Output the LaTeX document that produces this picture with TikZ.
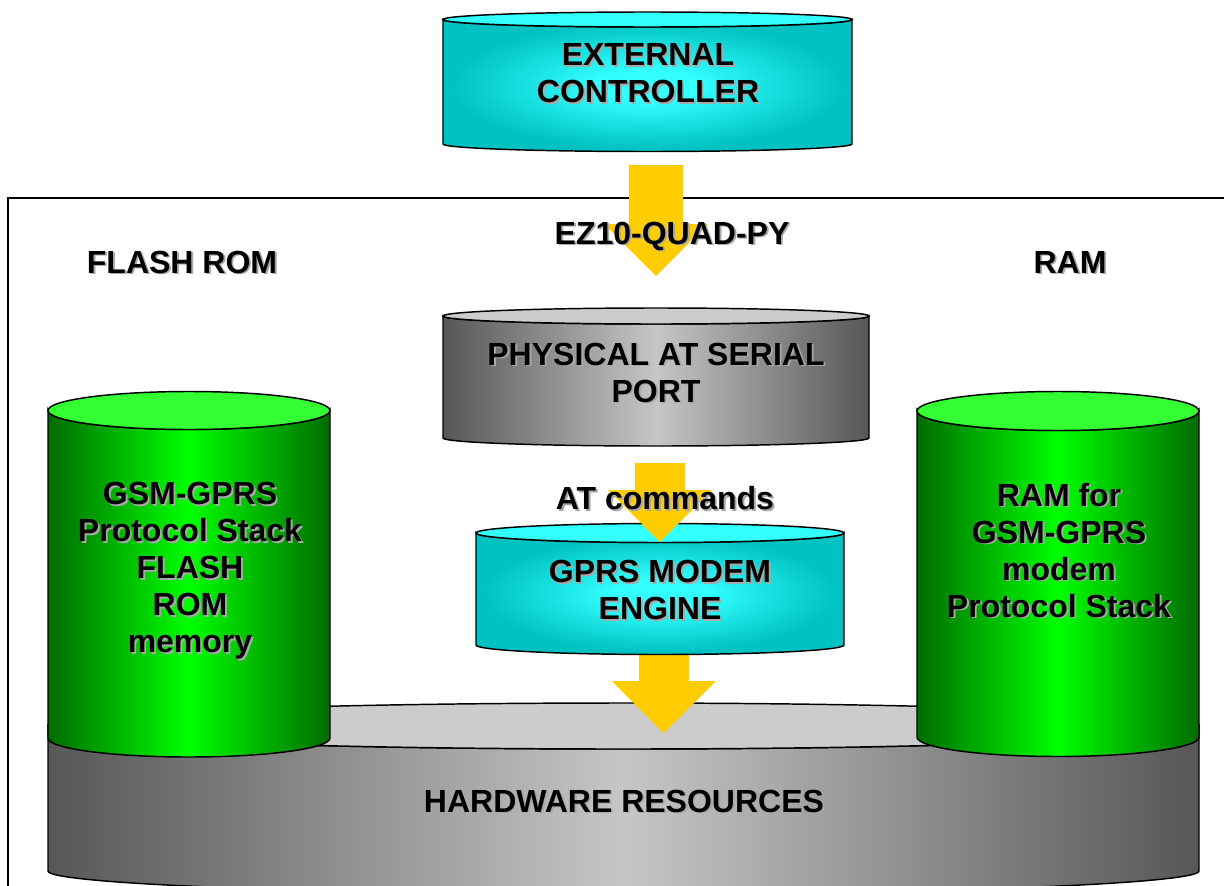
\documentclass[tikz,border=0pt]{standalone}
\usepackage{fontspec}
\setmainfont{Liberation Sans}
\usetikzlibrary{arrows.meta}

\definecolor{greyedge}{HTML}{575757}
\definecolor{greymid}{HTML}{C6C6C6}
\definecolor{greytop}{HTML}{CCCCCC}
\definecolor{greenedge}{HTML}{006C00}
\definecolor{greenmid}{HTML}{00FF00}
\definecolor{greentop}{HTML}{33FF33}
\definecolor{cyanedge}{HTML}{00C2C2}
\definecolor{cyanmid}{HTML}{33FFFF}
\definecolor{cyantop}{HTML}{33FFFF}
\definecolor{arrowyellow}{HTML}{FFCC00}
\definecolor{shadowgrey}{HTML}{A8A8A8}

\pgfdeclarehorizontalshading{greycyl}{100bp}{color(0bp)=(greyedge); color(25bp)=(greyedge); color(50bp)=(greymid); color(75bp)=(greyedge); color(100bp)=(greyedge)}
\pgfdeclarehorizontalshading{greencyl}{100bp}{color(0bp)=(greenedge); color(25bp)=(greenedge); color(50bp)=(greenmid); color(75bp)=(greenedge); color(100bp)=(greenedge)}
\pgfdeclareradialshading{cyancyl}{\pgfpoint{0bp}{0bp}}{color(0bp)=(cyanmid); color(6bp)=(cyanmid); color(24bp)=(cyanedge); color(100bp)=(cyanedge)}

\def\sh#1{\leavevmode\rlap{\kern1.4pt\raisebox{-1.4pt}{\textcolor{shadowgrey}{#1}}}#1}
% cylinder: left, right, top y, bottom y, y radius, shading, top colour
\def\cyl#1#2#3#4#5#6#7{%
  \pgfmathsetmacro\rx{(#2-#1)/2}%
  \pgfmathsetmacro\cx{(#1+#2)/2}%
  \draw[line width=1.1pt, shade, shading=#6] (#1,#3) -- (#1,#4) arc[start angle=180, end angle=0, x radius=\rx, y radius=#5] -- (#2,#3) arc[start angle=0, end angle=180, x radius=\rx, y radius=#5] -- cycle;
  \draw[line width=1.1pt, fill=#7] (\cx,#3) ellipse [x radius=\rx, y radius=#5];
}

\begin{document}
\begin{tikzpicture}[x=0.75pt, y=-0.75pt,
  txt/.style={inner sep=0pt, align=center, font=\fontsize{24pt}{27.75pt}\selectfont\bfseries},
  bigarrow/.style={draw=arrowyellow, line width=#1, -{Triangle[length=39pt, width=78pt, line width=0pt]}}]
\useasboundingbox (0,0) rectangle (1224,885);
\draw[line width=1.1pt] (1240,198) -- (8,198) -- (8,900);

\cyl{443}{852}{19.5}{144}{7.5}{cyancyl}{cyantop}
\node (CTRL) at (648,74.5) [txt] {\sh{EXTERNAL}\\\sh{CONTROLLER}};

\coordinate (A1S) at (656,165);
\coordinate (A1E) at (656,276);
\draw [bigarrow=40.5pt] (A1S) to (A1E);
\node (EZ) at (672,237) [txt] {\sh{EZ10-QUAD-PY}};
\node (FROM) at (182,263) [txt] {\sh{FLASH ROM}};
\node (RAMT) at (1070,263) [txt] {\sh{RAM}};

\cyl{48}{1199}{726}{871}{23}{greycyl}{greytop}
\node (HW) at (624,802) [txt] {\sh{HARDWARE RESOURCES}};

\coordinate (A3S) at (664,640);
\coordinate (A3E) at (664,733);
\draw [bigarrow=37.5pt] (A3S) to (A3E);

\cyl{48}{330}{410.5}{738}{19}{greencyl}{greentop}
\node (FLASH) at (190,572) [txt] {\sh{GSM-GPRS}\\\sh{Protocol Stack}\\\sh{FLASH}\\\sh{ROM}\\\sh{memory}};
\cyl{917}{1199}{411}{737}{19.5}{greencyl}{greentop}
\node (RAM) at (1059,551) [txt] {\sh{RAM for}\\\sh{GSM-GPRS}\\\sh{modem}\\\sh{Protocol Stack}};

\cyl{443}{869}{316}{438}{8}{greycyl}{greytop}
\node (PORT) at (656,373.5) [txt] {\sh{PHYSICAL AT SERIAL}\\\sh{PORT}};

\cyl{476}{844}{533}{645}{9.5}{cyancyl}{cyantop}
\node (GPRS) at (660,591) [txt] {\sh{GPRS MODEM}\\\sh{ENGINE}};

\coordinate (A2S) at (660,463);
\coordinate (A2E) at (660,542);
\draw [bigarrow=37.5pt] (A2S) to (A2E);
\node (ATC) at (665,499) [txt] {\sh{AT commands}};
\end{tikzpicture}
\end{document}
